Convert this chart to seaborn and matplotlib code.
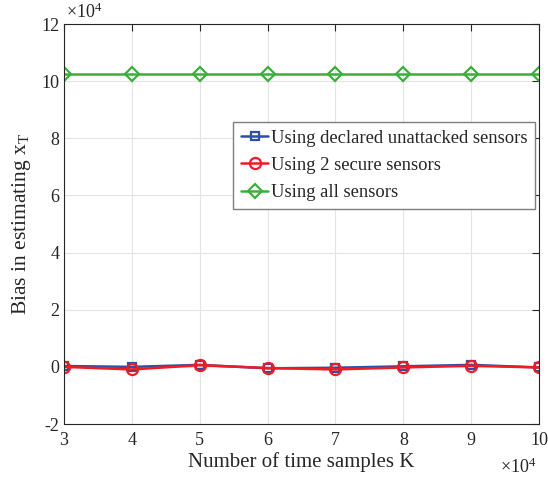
import numpy as np
import pandas as pd
import matplotlib
matplotlib.use("Agg")
import matplotlib.pyplot as plt
import seaborn as sns
from matplotlib.ticker import FuncFormatter

K = [30000, 40000, 50000, 60000, 70000, 80000, 90000, 100000]
bias_declared = [300, 0, 700, -500, -300, 200, 700, -200]
bias_secure = [0, -900, 600, -400, -900, -200, 400, -200]
bias_all = [102500, 102500, 102500, 102500, 102500, 102500, 102500, 102500]
labels = ["Using declared unattacked sensors", "Using 2 secure sensors", "Using all sensors"]

sns.set_style("white")
plt.rcParams['font.family'] = ['Liberation Serif', 'DejaVu Serif']
plt.rcParams['mathtext.fontset'] = 'custom'
plt.rcParams['mathtext.rm'] = 'Liberation Serif'
plt.rcParams['mathtext.it'] = 'Liberation Serif:italic'
plt.rcParams['axes.unicode_minus'] = False

fig = plt.figure(figsize=(5.48, 4.82), dpi=100)
ax = fig.add_axes([0.117, 0.1203, 0.8666, 0.8297])

colors = ['#2F4EA5', '#EE1C25', '#3DAE3D']
markers = ['s', 'o', 'D']
msizes = [6, 8, 7]
for vals, lab, c, m, ms in zip([bias_declared, bias_secure, bias_all], labels, colors, markers, msizes):
    df = pd.DataFrame({'K': K, 'bias': vals})
    sns.lineplot(data=df, x='K', y='bias', ax=ax, color=c, marker=m, markersize=ms,
                 markerfacecolor='none', markeredgecolor=c, markeredgewidth=1.6,
                 linewidth=1.8, label=lab)

ax.set_xlim(30000, 100000)
ax.set_ylim(-20000, 120000)
ax.set_xticks(np.arange(30000, 100001, 10000))
ax.set_yticks(np.arange(-20000, 120001, 20000))
fmt = FuncFormatter(lambda v, p: '%d' % round(v / 1e4))
ax.xaxis.set_major_formatter(fmt)
ax.yaxis.set_major_formatter(fmt)

ax.grid(True, color='#E3E3E3', linewidth=0.8)
for s in ax.spines.values():
    s.set_color('#262626')
    s.set_linewidth(0.8)
ax.tick_params(direction='in', top=True, right=True, length=5, width=0.8,
               colors='#262626', labelsize=13, labelcolor='#262626')
ax.tick_params(axis='x', pad=6)
ax.set_xlabel('Number of time samples K', fontsize=15, color='#262626', labelpad=2)
ax.set_ylabel('Bias in estimating x$_\\mathrm{T}$', fontsize=15.5, color='#262626', labelpad=6)

ax.text(0.003, 1.005, '$\\times10^{4}$', transform=ax.transAxes, ha='left', va='bottom',
        fontsize=13, color='#262626')
ax.text(0.995, -0.085, '$\\times10^{4}$', transform=ax.transAxes, ha='right', va='top',
        fontsize=13, color='#262626')

leg = ax.legend(loc='upper right', bbox_to_anchor=(0.992, 0.755), fontsize=13.4,
                frameon=True, fancybox=False, edgecolor='#7F7F7F', framealpha=1,
                handlelength=1.5, handletextpad=0.15, borderpad=0.4, labelspacing=0.55,
                borderaxespad=0)
leg.get_frame().set_linewidth(1.0)

fig.savefig('out.png', dpi=100)
